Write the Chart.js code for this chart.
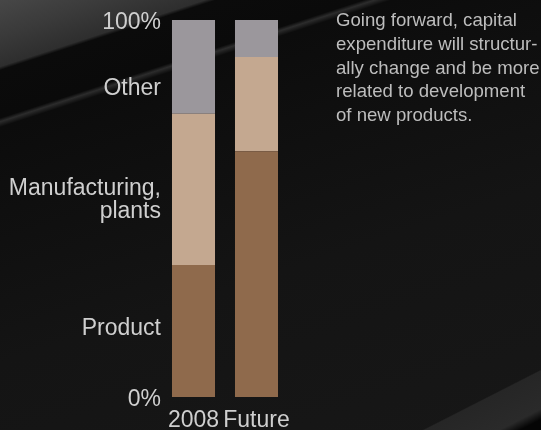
<!DOCTYPE html>
<html>
<head>
<meta charset="utf-8">
<script src="https://cdn.jsdelivr.net/npm/chart.js@4/dist/chart.umd.min.js"></script>
<style>
  html, body { margin: 0; padding: 0; }
  body {
    width: 541px; height: 430px; overflow: hidden; position: relative;
    background:
      linear-gradient(153deg, rgba(0,0,0,0) 0%, rgba(0,0,0,0) 91.4%, #262626 91.6%, #2a2a2a 97%, #050505 98.5%),
      linear-gradient(162deg, #474747 0%, #3a3a3a 6%, #2e2e2e 11%, #0b0b0b 11.6%, #0a0a0a 19.5%, #2c2c2c 20.1%, #0c0c0c 21%, #0f0f0f 35%, #141414 60%, #171717 100%);
  }
  #chart { position: absolute; left: 0; top: 0; }
  #note {
    position: absolute; left: 336px; top: 8px; width: 205px;
    font-family: "Liberation Sans", Arial, sans-serif;
    font-size: 18.6px; line-height: 23.8px; color: #bdbdbd;
  }
</style>
</head>
<body>
<canvas id="chart" width="541" height="430"></canvas>
<div id="note">Going forward, capital expenditure will structur-<br>ally change and be more related to development of new products.</div>
<script>
const categories = ['2008', 'Future'];
const product = [35, 65.2];
const manufacturing = [40.1, 25];
const other = [24.9, 9.8];
const tickValues = [0, 19, 53, 82.5, 100];
const tickLabels = ['0%', 'Product', ['Manufacturing,', 'plants'], 'Other', '100%'];

const labelFont = { family: '"Liberation Sans", Arial, sans-serif', size: 23, lineHeight: 1.02 };

let plot = () => {
  const ctx = document.getElementById('chart');
  const dataset = {
    labels: categories,
    datasets: [
      { label: 'Product', data: product, backgroundColor: '#8f6a4c' },
      { label: 'Manufacturing, plants', data: manufacturing, backgroundColor: '#c4a890' },
      { label: 'Other', data: other, backgroundColor: '#9b979c' }
    ]
  };
  const config = {
    type: 'bar',
    data: dataset,
    options: {
      responsive: false,
      animation: false,
      devicePixelRatio: 1,
      layout: { padding: { top: 20, right: 253, bottom: 0, left: 0 } },
      datasets: { bar: { barPercentage: 0.683, categoryPercentage: 1, borderWidth: 0 } },
      plugins: { legend: { display: false }, tooltip: { enabled: false } },
      scales: {
        x: {
          stacked: true,
          grid: { display: false, drawTicks: false },
          border: { display: false },
          ticks: { color: '#cfcfcf', font: labelFont, padding: 12, maxRotation: 0, autoSkip: false },
          afterFit: (scale) => { scale.height = 33; }
        },
        y: {
          stacked: true,
          min: 0,
          max: 100,
          grid: { display: false, drawTicks: false },
          border: { display: false },
          afterBuildTicks: (scale) => { scale.ticks = tickValues.map(v => ({ value: v })); },
          ticks: {
            color: '#cfcfcf',
            font: labelFont,
            padding: 1,
            labelOffset: 3,
            autoSkip: false,
            callback: (value) => tickLabels[tickValues.indexOf(value)]
          },
          afterFit: (scale) => { scale.width = 162; }
        }
      }
    }
  };
  new Chart(ctx, config);
};

plot();
</script>
</body>
</html>
